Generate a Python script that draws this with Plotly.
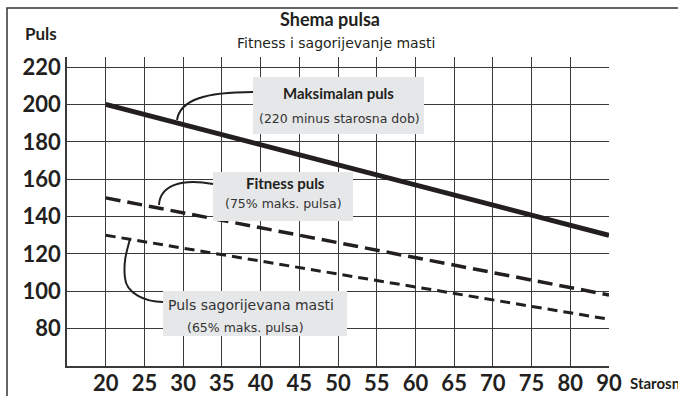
import plotly.graph_objects as go

# Age categories on the horizontal axis (the last step jumps from 80 to 90)
ages = [20, 25, 30, 35, 40, 45, 50, 55, 60, 65, 70, 75, 80, 90]
age_labels = [str(a) for a in ages]

# Pulse ticks
pulse_ticks = [80, 100, 120, 140, 160, 180, 200, 220]

# Series: start and end values over the age span
line_ages = ["20", "90"]
max_pulse = [200, 130]        # Maksimalan puls (220 minus starosna dob)
fitness_pulse = [150, 98]     # Fitness puls (75% maks. pulsa)
fatburn_pulse = [130, 85]     # Puls sagorijevana masti (65% maks. pulsa)

W, H = 678, 396
L, R, T, B = 67, 69, 57, 30
PW, PH = W - L - R, H - T - B

BOLD_FONT = "Lato"
TEXT_FONT = "DejaVu Sans"
INK = "#231f20"
GRID = "#3a3a3a"
BOX = "#e6e7e8"


def pxx(p):
    return (p - L) / PW


def pxy(p):
    return (H - B - p) / PH


def path(points):
    # points: list of (command, [(x, y), ...]) in pixel space -> paper path
    out = []
    for cmd, pts in points:
        coords = " ".join(f"{pxx(x):.4f},{pxy(y):.4f}" for x, y in pts)
        out.append(f"{cmd} {coords}")
    return " ".join(out)


fig = go.Figure()

fig.add_trace(go.Scatter(
    x=line_ages, y=max_pulse, mode="lines",
    line=dict(color=INK, width=5), showlegend=False, hoverinfo="skip"))
fig.add_trace(go.Scatter(
    x=line_ages, y=fitness_pulse, mode="lines",
    line=dict(color=INK, width=3.5, dash="15px,7px"), showlegend=False, hoverinfo="skip"))
fig.add_trace(go.Scatter(
    x=line_ages, y=fatburn_pulse, mode="lines",
    line=dict(color=INK, width=3, dash="10px,6px"), showlegend=False, hoverinfo="skip"))

shapes = []

# outer frame
shapes.append(dict(type="rect", xref="paper", yref="paper",
                   x0=pxx(7), x1=pxx(720), y0=pxy(430), y1=pxy(8),
                   line=dict(color="#333333", width=1.5), layer="below"))

# label boxes
for x0, x1, y0, y1 in [(253, 424, 77, 134), (213, 353, 172, 221), (163, 347, 291, 336)]:
    shapes.append(dict(type="rect", xref="paper", yref="paper",
                       x0=pxx(x0), x1=pxx(x1), y0=pxy(y1), y1=pxy(y0),
                       fillcolor=BOX, line=dict(width=0), layer="above"))

# connector curves from the boxes to their lines
connectors = [
    [("M", [(253, 92)]), ("C", [(205, 92), (180, 100), (177, 120)])],
    [("M", [(213, 184)]), ("C", [(180, 178), (160, 186), (159, 205)])],
    [("M", [(163, 302)]), ("C", [(145, 302), (126, 293), (125, 278)]),
     ("C", [(123, 262), (127, 250), (130, 239)])],
]
for c in connectors:
    shapes.append(dict(type="path", xref="paper", yref="paper", path=path(c),
                       line=dict(color=INK, width=2), layer="above"))

annotations = []


def label(text, x, y, size, bold=False, xanchor="center", color=INK, family=None):
    annotations.append(dict(
        text=text, xref="paper", yref="paper", x=pxx(x), y=pxy(y),
        xanchor=xanchor, yanchor="middle", showarrow=False,
        font=dict(family=family or (BOLD_FONT if bold else TEXT_FONT),
                  size=size, color=color, weight=700 if bold else 400)))


label("Puls", 23, 33, 17, bold=True, xanchor="left")
label("Shema pulsa", 330, 19, 18, bold=True)
label("Fitness i sagorijevanje masti", 336, 43, 14)

label("Maksimalan puls", 338, 93, 15, bold=True)
label("(220 minus starosna dob)", 339, 118, 12.5, color="#333333")
label("Fitness puls", 285, 183, 15, bold=True)
label("(75% maks. pulsa)", 283, 203, 12.5, color="#333333")
label("Puls sagorijevana masti", 166, 305, 14, xanchor="left", color="#333333")
label("(65% maks. pulsa)", 185, 327, 12.5, xanchor="left", color="#333333")

label("Starosna dob", 628, 383, 15, bold=True, xanchor="left")

fig.update_layout(
    width=W, height=H,
    margin=dict(l=L, r=R, t=T, b=B, pad=0, autoexpand=False),
    paper_bgcolor="white", plot_bgcolor="white",
    shapes=shapes, annotations=annotations,
    xaxis=dict(
        type="category", categoryorder="array", categoryarray=age_labels,
        tickvals=age_labels, range=[-1, len(ages) - 1],
        showgrid=True, gridcolor=GRID, gridwidth=1.2,
        showline=True, linecolor=GRID, linewidth=1.5,
        ticks="", ticklabelstandoff=-3, automargin=False,
        tickfont=dict(family=BOLD_FONT, size=22, color=INK, weight=700),
        zeroline=False, fixedrange=True),
    yaxis=dict(
        range=[60, 225.4], tickvals=pulse_ticks,
        showgrid=True, gridcolor=GRID, gridwidth=1.2,
        showline=True, linecolor=GRID, linewidth=1.5,
        ticks="", ticklabelstandoff=0, automargin=False,
        tickfont=dict(family=BOLD_FONT, size=22, color=INK, weight=700),
        zeroline=False, fixedrange=True),
)

fig.write_html("out.html")
